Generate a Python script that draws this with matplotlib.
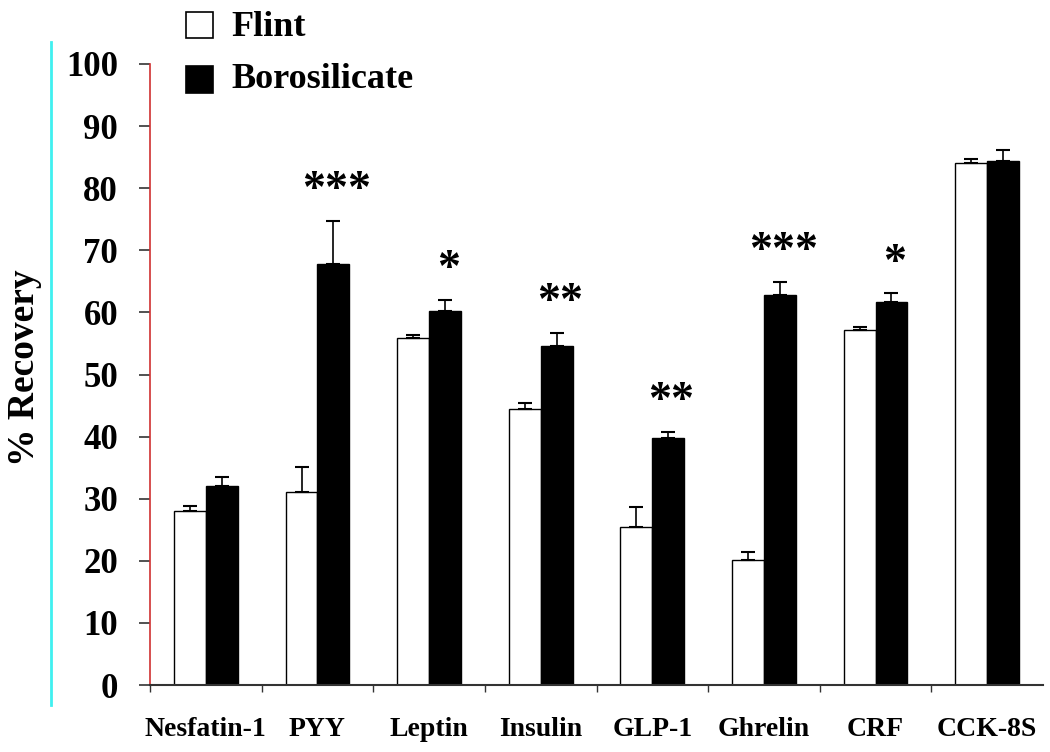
import matplotlib
matplotlib.use("Agg")
import matplotlib.pyplot as plt
import numpy as np
from matplotlib.lines import Line2D
from matplotlib.patches import Rectangle

categories = ["Nesfatin-1", "PYY", "Leptin", "Insulin", "GLP-1", "Ghrelin", "CRF", "CCK-8S"]
flint = [28.0, 31.0, 55.9, 44.5, 25.4, 20.1, 57.1, 84.1]
flint_err = [0.9, 4.1, 0.4, 0.9, 3.3, 1.3, 0.6, 0.6]
boro = [32.0, 67.8, 60.3, 54.6, 39.7, 62.8, 61.6, 84.4]
boro_err = [1.5, 6.9, 1.7, 2.1, 1.1, 2.1, 1.5, 1.8]
signif = ["", "***", "*", "**", "**", "***", "*", ""]
yticks = [0, 10, 20, 30, 40, 50, 60, 70, 80, 90, 100]

plt.rcParams['font.family'] = ['Liberation Serif', 'DejaVu Serif']
fig = plt.figure(figsize=(10.5, 7.52), dpi=100)
ax = fig.add_axes([150/1050, 1-685/752, (1043-150)/1050, (685-64)/752])

x = np.arange(len(categories)) + 0.5
w = 0.285
ax.bar(x - w/2, flint, w, color='white', edgecolor='black', linewidth=1.0, zorder=2)
ax.bar(x + w/2, boro, w, color='black', edgecolor='black', linewidth=1.0, zorder=2)
ax.errorbar(x - w/2, flint, yerr=[np.zeros(len(flint)), flint_err], fmt='none',
            ecolor='black', elinewidth=1.2, capsize=5, capthick=1.5, zorder=3)
ax.errorbar(x + w/2, boro, yerr=[np.zeros(len(boro)), boro_err], fmt='none',
            ecolor='black', elinewidth=1.2, capsize=5, capthick=1.5, zorder=3)

for xi, b, e, s in zip(x, boro, boro_err, signif):
    if s:
        ax.text(xi + w/2 + 0.03, b + e + 3.0, s, ha='center', va='baseline',
                fontsize=33, fontweight='bold', color='black')

ax.set_xlim(0, 8)
ax.set_ylim(0, 100)
ax.set_yticks(yticks)
ax.set_yticklabels([str(t) for t in yticks], fontsize=25, fontweight='bold')
ax.tick_params(axis='y', length=8, width=1.2, pad=15, color='#333333')

ax.set_xticks(np.arange(0, 8))
ax.set_xticklabels([])
ax.tick_params(axis='x', which='major', length=5, width=1, color='#333333')
ax.set_xticks(x, minor=True)
ax.set_xticklabels(categories, minor=True, fontsize=20, fontweight='bold')
ax.tick_params(axis='x', which='minor', length=0, pad=23)

for sp in ['top', 'right']:
    ax.spines[sp].set_visible(False)
ax.spines['left'].set_color('#d03030')
ax.spines['left'].set_linewidth(1.2)
ax.spines['bottom'].set_color('#333333')
ax.spines['bottom'].set_linewidth(1.5)

fig.text(25/1050, 1-368/752, "% Recovery", rotation=90, ha='center', va='center',
         fontsize=27, fontweight='bold')

# cyan vertical line at far left
fig.add_artist(Line2D([51/1050, 51/1050], [1-705/752, 1-42/752], color='#40f0f0', linewidth=2))

# legend
fig.add_artist(Rectangle((186/1050, 1-38/752), 27/1050, 26/752, facecolor='white',
                         edgecolor='black', linewidth=1.2, transform=fig.transFigure))
fig.add_artist(Rectangle((186/1050, 1-93/752), 27/1050, 27/752, facecolor='black',
                         edgecolor='black', linewidth=1.2, transform=fig.transFigure))
fig.text(231/1050, 1-27/752, "Flint", ha='left', va='center', fontsize=26, fontweight='bold')
fig.text(231/1050, 1-80/752, "Borosilicate", ha='left', va='center', fontsize=26, fontweight='bold')

fig.savefig("out.png", dpi=100)
